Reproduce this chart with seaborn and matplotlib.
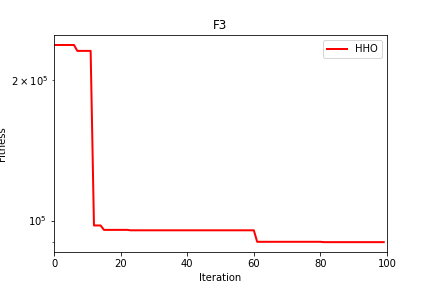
import matplotlib
matplotlib.use("Agg")
import matplotlib.pyplot as plt
import seaborn as sns
import pandas as pd

iterations = list(range(100))
fitness = (
    [237500, 237500, 237500, 237500, 237500, 237500, 237500]
    + [230700, 230700, 230700, 230700, 230700]
    + [97600, 97600, 97600]
    + [95500, 95500, 95500, 95500, 95500, 95500, 95500, 95500]
    + [95300] * 38
    + [90050] * 20
    + [89900] * 19
)
algo_name = "HHO"

df = pd.DataFrame({"Iteration": iterations, "Fitness": fitness})

fig = plt.figure(figsize=(6, 4), dpi=72)
ax = fig.add_axes([0.125, 0.125, 0.771, 0.753])
sns.lineplot(data=df, x="Iteration", y="Fitness", color="red", linewidth=2,
             label=algo_name, ax=ax)
ax.set_yscale("log")
ax.set_xlim(0, 100)
ax.set_title("F3")
ax.set_xlabel("Iteration")
ax.set_ylabel("Fitness")
ax.legend(loc="upper right")
fig.savefig("out.png", dpi=72)
